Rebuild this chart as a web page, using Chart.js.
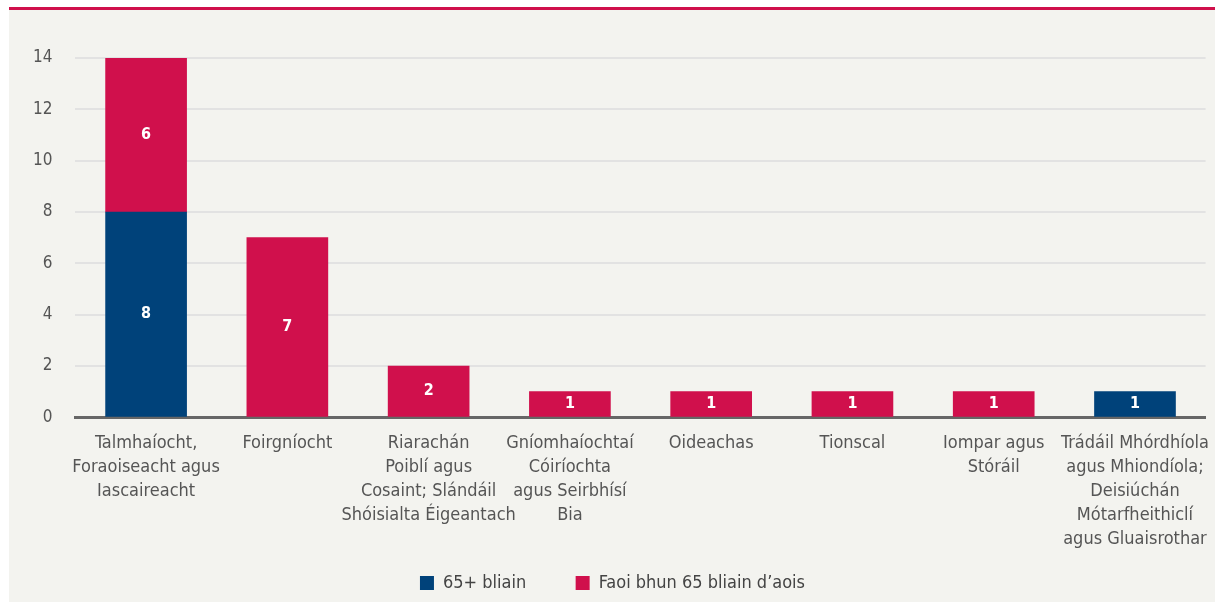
<!DOCTYPE html>
<html>
<head>
<meta charset="utf-8">
<script src="https://cdn.jsdelivr.net/npm/chart.js@4"></script>
<style>
  html, body { margin: 0; padding: 0; background: #fff; }
  #panel {
    position: absolute; left: 9px; top: 7px;
    width: 1206px; height: 592px;
    border-top: 3px solid #d0104c;
    background: #f3f3ef;
  }
  #chart { display: block; }
</style>
</head>
<body>
<div id="panel"><canvas id="chart" width="1206" height="592"></canvas></div>
<script>
// categories (one array of lines per label)
const categories = [
    ['Talmhaíocht,', 'Foraoiseacht agus', 'Iascaireacht'],
    ['Foirgníocht'],
    ['Riarachán', 'Poiblí agus', 'Cosaint; Slándáil', 'Shóisialta Éigeantach'],
    ['Gníomhaíochtaí', 'Cóiríochta', 'agus Seirbhísí', 'Bia'],
    ['Oideachas'],
    ['Tionscal'],
    ['Iompar agus', 'Stóráil'],
    ['Trádáil Mhórdhíola', 'agus Mhiondíola;', 'Deisiúchán', 'Mótarfheithiclí', 'agus Gluaisrothar']
];

// series values
const over65 = [8, null, null, null, null, null, null, 1];
const under65 = [6, 7, 2, 1, 1, 1, 1, null];

const yTicks = [0, 2, 4, 6, 8, 10, 12, 14];

const blue = '#00427a';
const red = '#d0104c';
const fontFamily = '"Liberation Sans Narrow", "DejaVu Sans Condensed", Roboto, sans-serif';

Chart.defaults.font.family = fontFamily;
Chart.defaults.color = '#555';

// white numbers in the middle of each bar
const barLabels = {
    id: 'barLabels',
    afterDatasetsDraw(chart) {
        const ctx = chart.ctx;
        ctx.save();
        ctx.fillStyle = '#fff';
        ctx.font = 'bold 16px ' + fontFamily;
        ctx.textAlign = 'center';
        ctx.textBaseline = 'middle';
        chart.data.datasets.forEach((ds, i) => {
            chart.getDatasetMeta(i).data.forEach((bar, j) => {
                const v = ds.data[j];
                if (!v) return;
                const p = bar.getProps(['x', 'y', 'base'], true);
                ctx.fillText(String(v), p.x, (p.y + p.base) / 2);
            });
        });
        ctx.restore();
    }
};

const data = {
    labels: categories,
    datasets: [{
        label: '65+ bliain',
        data: over65,
        backgroundColor: blue,
        barThickness: 81
    },
    {
        label: 'Faoi bhun 65 bliain d\u2019aois',
        data: under65,
        backgroundColor: red,
        barThickness: 81
    }]
};

const config = {
    type: 'bar',
    data,
    options: {
        responsive: false,
        animation: false,
        layout: {
            padding: { top: 48, right: 0, bottom: 0, left: 1 }
        },
        scales: {
            x: {
                stacked: true,
                grid: { display: false },
                border: { color: '#666', width: 3 },
                ticks: {
                    color: '#555',
                    font: { size: 18, lineHeight: 1.33 },
                    padding: 6,
                    maxRotation: 0,
                    autoSkip: false
                }
            },
            y: {
                stacked: true,
                min: 0,
                max: 14,
                afterBuildTicks: (axis) => {
                    axis.ticks = yTicks.map(v => ({ value: v }));
                },
                grid: { color: '#e2e2e2', lineWidth: 2, drawTicks: false },
                border: { display: false },
                ticks: {
                    color: '#555',
                    font: { size: 17 },
                    padding: 23
                }
            }
        },
        plugins: {
            legend: {
                position: 'bottom',
                labels: {
                    boxWidth: 14,
                    boxHeight: 14,
                    padding: 17,
                    color: '#444',
                    font: { size: 18 },
                    // widen the gap between the two legend items
                    generateLabels: (chart) => {
                        const items = Chart.defaults.plugins.legend.labels.generateLabels(chart);
                        items[0].text += '\u2003\u2003';
                        return items;
                    }
                }
            },
            tooltip: { enabled: false }
        }
    },
    plugins: [barLabels]
};

const myChart = new Chart(document.getElementById('chart'), config);
</script>
</body>
</html>
